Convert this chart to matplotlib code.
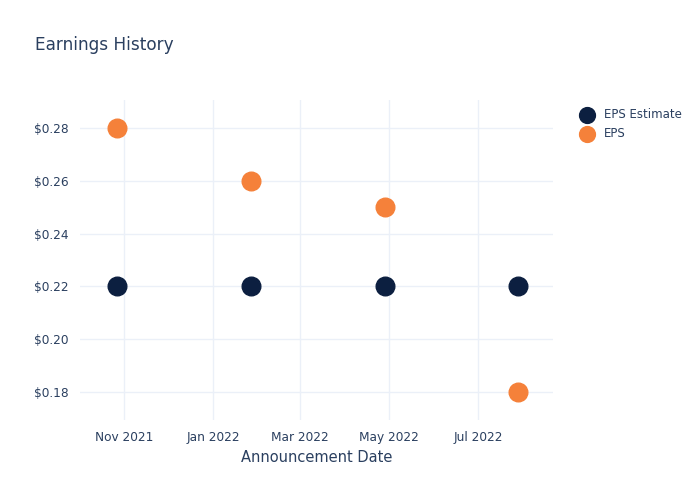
import datetime
import matplotlib

matplotlib.use("Agg")
import matplotlib.pyplot as plt
import matplotlib.dates as mdates
from matplotlib.ticker import FuncFormatter

# data
dates = [
    datetime.date(2021, 10, 27),
    datetime.date(2022, 1, 27),
    datetime.date(2022, 4, 28),
    datetime.date(2022, 7, 28),
]
eps_estimate = [0.22, 0.22, 0.22, 0.22]
eps_actual = [0.28, 0.26, 0.25, 0.18]
tick_dates = [
    datetime.date(2021, 11, 1),
    datetime.date(2022, 1, 1),
    datetime.date(2022, 3, 1),
    datetime.date(2022, 5, 1),
    datetime.date(2022, 7, 1),
]
y_ticks = [0.18, 0.20, 0.22, 0.24, 0.26, 0.28]

text_color = "#2a3f5f"
grid_color = "#ebf0f8"

plt.rcParams["font.family"] = ["DejaVu Sans"]

fig = plt.figure(figsize=(7, 5), dpi=100)
ax = fig.add_axes([0.1143, 0.16, 0.6757, 0.64])

ax.scatter(dates, eps_estimate, s=180, color="#0c1f40", label="EPS Estimate", zorder=3)
ax.scatter(dates, eps_actual, s=180, color="#f5813a", label="EPS", zorder=3)

ax.set_xlim(datetime.date(2021, 10, 2), datetime.date(2022, 8, 21))
ax.set_ylim(0.1693, 0.2907)
ax.set_xticks(tick_dates)
ax.xaxis.set_major_formatter(mdates.DateFormatter("%b %Y"))
ax.set_yticks(y_ticks)
ax.yaxis.set_major_formatter(FuncFormatter(lambda v, p: f"${v:.2f}"))

ax.grid(True, color=grid_color, linewidth=1)
ax.set_axisbelow(True)
for s in ax.spines.values():
    s.set_visible(False)
ax.tick_params(length=0, colors=text_color, labelsize=8.7, pad=8)

ax.set_xlabel("Announcement Date", color=text_color, fontsize=10.5, labelpad=4)
fig.text(0.05, 0.911, "Earnings History", color=text_color, fontsize=12.2, va="center")

leg = ax.legend(
    loc="upper left",
    bbox_to_anchor=(0.807, 0.805),
    bbox_transform=fig.transFigure,
    frameon=False,
    fontsize=8.5,
    labelcolor=text_color,
    handletextpad=0.4,
    labelspacing=0.5,
    markerscale=0.85,
)

fig.savefig("out.png", dpi=100)
